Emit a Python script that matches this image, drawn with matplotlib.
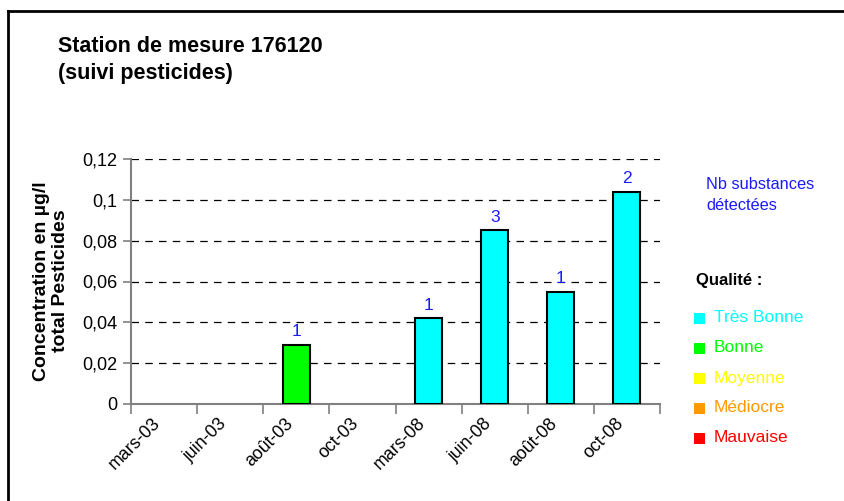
import matplotlib
matplotlib.use("Agg")
import matplotlib.pyplot as plt
from matplotlib.lines import Line2D
from matplotlib.patches import Rectangle

plt.rcParams['font.family'] = ['Liberation Sans', 'DejaVu Sans']

categories = ["mars-03", "juin-03", "août-03", "oct-03", "mars-08", "juin-08", "août-08", "oct-08"]
values = [None, None, 0.029, None, 0.042, 0.085, 0.055, 0.104]
nb_substances = [None, None, 1, None, 1, 3, 1, 2]
quality = [None, None, "Bonne", None, "Très Bonne", "Très Bonne", "Très Bonne", "Très Bonne"]

quality_labels = ["Très Bonne", "Bonne", "Moyenne", "Médiocre", "Mauvaise"]
quality_colors = ["#00FFFF", "#00FF00", "#FFFF00", "#FF9900", "#FF0000"]
yticks = [0, 0.02, 0.04, 0.06, 0.08, 0.1, 0.12]
ytick_labels = ["0", "0,02", "0,04", "0,06", "0,08", "0,1", "0,12"]

W, H = 844, 501
fig = plt.figure(figsize=(W / 100, H / 100), dpi=100)
ax = fig.add_axes([131 / W, 1 - 404 / H, (660 - 131) / W, (404 - 159) / H])

cmap = dict(zip(quality_labels, quality_colors))
for i, (v, n, q) in enumerate(zip(values, nb_substances, quality)):
    if v is None:
        continue
    ax.bar(i, v, width=0.41, color=cmap[q], edgecolor="black", linewidth=1.5, zorder=3)
    ax.annotate(str(n), (i, v), xytext=(0, 4), textcoords="offset points",
                ha="center", va="bottom", color="#1a1aff", fontsize=12.5, zorder=4)

ax.set_xlim(-0.5, len(categories) - 0.5)
ax.set_ylim(0, 0.12)
ax.set_yticks(yticks)
ax.set_yticklabels(ytick_labels, fontsize=13)
ax.yaxis.grid(True, linestyle=(0, (6, 5)), color="black", linewidth=0.9, zorder=0)
ax.set_axisbelow(True)

ax.set_xticks([i - 0.5 for i in range(len(categories) + 1)])
ax.set_xticklabels([])
for i, cat in enumerate(categories):
    ax.annotate(cat, (i, 0), xycoords=ax.get_xaxis_transform(), xytext=(-6, -17),
                textcoords="offset pixels", rotation=45, ha="right", va="center",
                rotation_mode="anchor", fontsize=12.8, annotation_clip=False)
ax.tick_params(axis="x", which="major", direction="out", length=7, color="#808080", width=1.2)
ax.tick_params(axis="y", direction="out", length=6, color="#808080", width=1.2, pad=4)

for s in ["top", "right"]:
    ax.spines[s].set_visible(False)
for s in ["left", "bottom"]:
    ax.spines[s].set_color("#808080")
    ax.spines[s].set_linewidth(1.5)

fig.text(58 / W, 1 - 36 / H, "Station de mesure 176120\n(suivi pesticides)",
         fontsize=15.5, fontweight="bold", ha="left", va="top", linespacing=1.4)

fig.text(51 / W, 1 - 281 / H, "Concentration en µg/l\ntotal Pesticides",
         fontsize=14, fontweight="bold", rotation=90, ha="center", va="center",
         multialignment="center", linespacing=1.1)

fig.text(706 / W, 1 - 195 / H, "Nb substances\ndétectées", fontsize=11.8, color="#1a1aff",
         ha="left", va="center", linespacing=1.45)
fig.text(696 / W, 1 - 281 / H, "Qualité :", fontsize=12, fontweight="bold",
         ha="left", va="center")
for k, (lab, col) in enumerate(zip(quality_labels, quality_colors)):
    yc = 318 + 30 * k
    fig.add_artist(Rectangle((694 / W, 1 - (yc + 6) / H), 11 / W, 11 / H,
                             transform=fig.transFigure, facecolor=col, edgecolor="none"))
    fig.text(714 / W, 1 - yc / H, lab, fontsize=12.5, color=col, ha="left", va="center")

fig.add_artist(Line2D([8 / W, 1.0], [1 - 11 / H, 1 - 11 / H], transform=fig.transFigure,
                      color="black", linewidth=2))
fig.add_artist(Line2D([8 / W, 8 / W], [0.0, 1 - 11 / H], transform=fig.transFigure,
                      color="black", linewidth=2))

fig.savefig("out.png", dpi=100)
